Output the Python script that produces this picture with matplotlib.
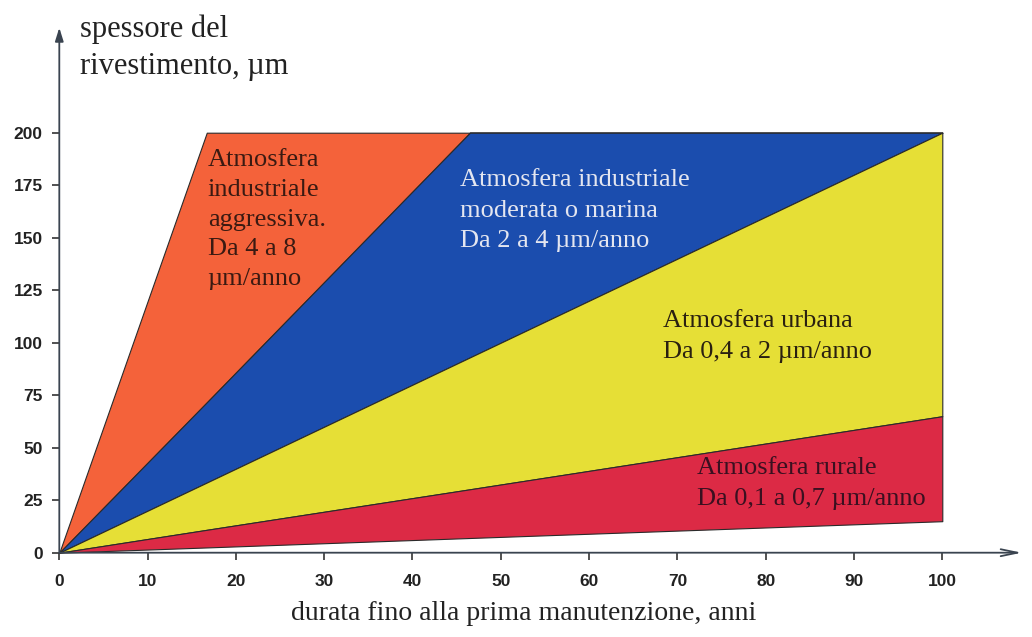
import matplotlib.pyplot as plt

# years along the x axis where the band edges bend
anni = [0, 16.7, 46.5, 100]

# coating thickness (um) at those years, band by band, top to bottom
bordo_aggressiva = [0, 200, 200, 200]
bordo_moderata = [0, 71.6, 200, 200]
bordo_urbana = [0, 33.4, 93, 200]
bordo_rurale = [0, 10.9, 30.2, 65]
fondo_rurale = [0, 2.5, 7.0, 15]

x_ticks = list(range(0, 101, 10))
y_ticks = list(range(0, 201, 25))

col_orange = '#f4623a'
col_blue = '#1b4dae'
col_yellow = '#e6df36'
col_red = '#dc2a45'
edge = '#2a2a2a'

fig = plt.figure(figsize=(10.32, 6.37), dpi=100)
W, H = 1032, 637
# axes: x 0..110 from px 59 at 8.83 px/unit, y 0..255 with y=0 at px 553, 2.1 px/unit
ax = fig.add_axes([59.3 / W, (H - 552.7) / H, 110 * 8.83 / W, 255 * 2.1 / H])
ax.set_xlim(0, 110)
ax.set_ylim(0, 255)

bands = [
    (bordo_moderata, bordo_aggressiva, col_orange),
    (bordo_urbana, bordo_moderata, col_blue),
    (bordo_rurale, bordo_urbana, col_yellow),
    (fondo_rurale, bordo_rurale, col_red),
]
for lo, hi, c in bands:
    ax.fill_between(anni, lo, hi, facecolor=c, edgecolor=edge, linewidth=0.8, zorder=2)

for s in ax.spines.values():
    s.set_visible(False)

# axes drawn as arrows
ax.annotate('', xy=(0, 250), xytext=(0, 0),
            arrowprops=dict(arrowstyle='-|>,head_length=0.8,head_width=0.25',
                            color='#3a4450', lw=1.3, shrinkA=0, shrinkB=0), zorder=3)
ax.annotate('', xy=(109, 0), xytext=(0, 0),
            arrowprops=dict(arrowstyle='->,head_length=1.2,head_width=0.25',
                            color='#3a4450', lw=1.3, shrinkA=0, shrinkB=0), zorder=3)

ax.set_xticks(x_ticks)
ax.set_yticks(y_ticks)
ax.tick_params(axis='both', direction='out', length=5, width=1.2, color='#333333',
               labelsize=12.5, labelcolor='#222222')
ax.tick_params(axis='x', pad=10)
ax.tick_params(axis='y', pad=7)
for lab in ax.get_xticklabels() + ax.get_yticklabels():
    lab.set_fontfamily('Liberation Sans')
    lab.set_fontweight('bold')

serif = 'Liberation Serif'
fig.text(80 / W, 1 - 37 / H, 'spessore del', family=serif,
         fontsize=22, color='#222222', va='baseline', ha='left')
fig.text(80 / W, 1 - 74 / H, 'rivestimento, \u00b5m', family=serif,
         fontsize=22, color='#222222', va='baseline', ha='left')
fig.text(524 / W, 1 - 620 / H, 'durata fino alla prima manutenzione, anni', family=serif,
         fontsize=20, color='#222222', va='baseline', ha='center')

txt = dict(family=serif, fontsize=19, va='top', ha='left', zorder=4)
ax.text(16.8, 192, 'Atmosfera\nindustriale\naggressiva.\nDa 4 a 8\n\u00b5m/anno',
        color='#3a1a12', linespacing=1.45, **txt)
ax.text(45.4, 182.5, 'Atmosfera industriale\nmoderata o marina\nDa 2 a 4 \u00b5m/anno',
        color='#e4e6f0', linespacing=1.5, **txt)
ax.text(68.4, 115.5, 'Atmosfera urbana\nDa 0,4 a 2 \u00b5m/anno', color='#2a2010',
        linespacing=1.5, **txt)
ax.text(72.2, 45.5, 'Atmosfera rurale\nDa 0,1 a 0,7 \u00b5m/anno', color='#3a1020',
        linespacing=1.5, **txt)

fig.savefig('out.png', dpi=100)
